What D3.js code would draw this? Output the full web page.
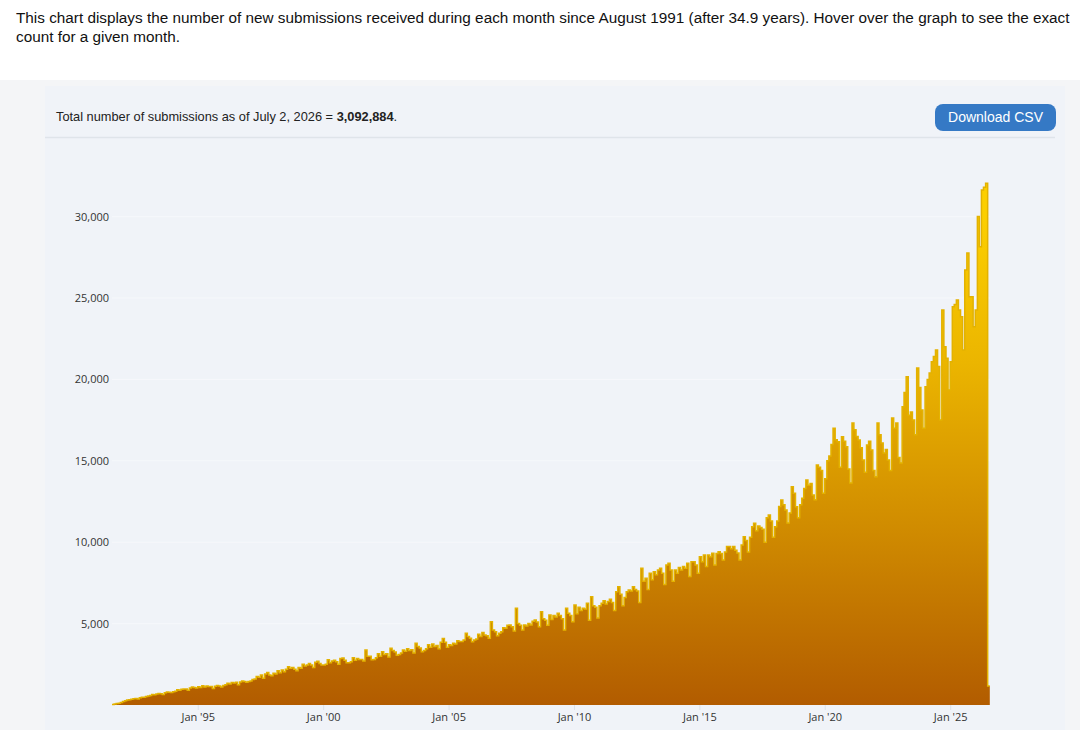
<!DOCTYPE html>
<html>
<head>
<meta charset="utf-8">
<script src="https://cdn.jsdelivr.net/npm/d3@7"></script>
<style>
  body { margin: 0; background: #fff; }
  svg { display: block; }
</style>
</head>
<body>
<svg id="chart" width="1080" height="730"></svg>
<script>
// monthly new submissions, first month = Aug 1991
var startMonth = new Date(1991, 7, 1);

var counts1990s = [
  30, 60, 85, 110, 150,
  210, 260, 310, 330, 350, 380, 400, 370, 440, 470, 480, 520,
  550, 580, 640, 630, 670, 700, 690, 640, 760, 800, 790, 770,
  820, 850, 940, 910, 970, 990, 980, 900, 1050, 1100, 1080, 1040,
  1120, 1080, 1190, 1110, 1170, 1140, 1130, 1020, 1150, 1200, 1160, 1110,
  1200, 1250, 1330, 1290, 1380, 1350, 1400, 1250, 1420, 1480, 1440, 1400,
  1450, 1480, 1560, 1600, 1750, 1700, 1850, 1650, 1900, 2000, 1850, 1800,
  1950, 1900, 2100, 1980, 2150, 2050, 2200, 2350, 2250, 2300, 2200, 2100,
  2300, 2250, 2500, 2400, 2450, 2550, 2450, 2300, 2620, 2680, 2550, 2450
];
var counts2000s = [
  2450, 2500, 2780, 2600, 2700, 2750, 2650, 2500, 2850, 2880, 2750, 2600,
  2600, 2650, 2900, 2750, 2850, 2800, 2800, 2700, 3380, 3000, 3000, 2780,
  2800, 2900, 3150, 3000, 3270, 3100, 3150, 2950, 3480, 3350, 3250, 3050,
  3100, 3200, 3380, 3300, 3450, 3350, 3400, 3200, 3790, 3600, 3500, 3270,
  3350, 3450, 3700, 3550, 3750, 3600, 3650, 3450, 3850, 4090, 3850, 3550,
  3700, 3650, 3800, 3750, 3950, 3900, 3900, 4000, 4400, 4200, 4100, 3890,
  4000, 4050, 4350, 4200, 4450, 4300, 4250, 4100, 5120, 4600, 4500, 4250,
  4400, 4500, 4750, 4710, 4900, 4910, 4800, 4550, 5940, 5000, 4900, 4600,
  4910, 4850, 5000, 4910, 5150, 5220, 5100, 4800, 5730, 5300, 5200, 4900,
  5530, 5250, 5500, 5400, 5630, 5500, 5300, 4600, 5940, 5630, 5500, 5120
];
var counts2010s = [
  6140, 5600, 6000, 5800, 5940, 5900, 6250, 5200, 6650, 6100, 6000, 5340,
  6100, 6250, 6400, 6200, 6350, 6500, 6300, 5800, 6960, 7270, 6800, 6100,
  6600, 6960, 7060, 7000, 7270, 7100, 7000, 6300, 8400, 7600, 7780, 7100,
  8090, 7700, 8190, 8000, 8300, 8400, 8100, 7400, 8600, 8700, 8300, 7600,
  8290, 8100, 8450, 8300, 8500, 8400, 8700, 7900, 8800, 8800, 8600, 8100,
  9110, 8800, 9210, 8500, 9210, 9100, 9320, 8600, 9300, 9420, 9300, 8900,
  9400, 9730, 9730, 9600, 9730, 9500, 9340, 8900, 9830, 10340, 10100, 9400,
  10300, 10950, 11160, 10700, 11000, 10900, 10800, 10000, 11500, 11670, 11300, 10300,
  10950, 11300, 12200, 12590, 12300, 11980, 11180, 11800, 13400, 13000, 12180, 11500,
  12300, 12700, 13300, 13820, 13500, 13600, 12900, 12600, 14740, 14600, 14400, 13000
];
var counts2020s = [
  13900, 15000, 15300, 16000, 17000, 16300, 16170, 14600, 16480, 16200, 15870, 14500,
  13640, 17320, 16900, 16500, 16280, 15800, 15050, 14300, 15970, 16200, 15660, 14400,
  14020, 17320, 16600, 16090, 15480, 15700, 15050, 14400, 17630, 17000, 17320, 15200,
  14860, 18320, 19200, 20170, 17800, 18000, 17500, 16600, 20700, 19500, 18120, 17000,
  19550, 20000, 20390, 21090, 21400, 21800, 20800, 17500, 24260, 22000, 21300, 19350,
  21090, 24470, 24600, 24880, 24260, 23850, 21800, 26720, 27760, 25080, 25080, 23240,
  24260, 30000, 28150, 31630, 31800, 32050, 1170
];

var xTickYears = [1995, 2000, 2005, 2010, 2015, 2020, 2025];
var yTickValues = [5000, 10000, 15000, 20000, 25000, 30000];
var totalText = "3,092,884";

var counts = counts1990s.concat(counts2000s, counts2010s, counts2020s);
var data = counts.map(function(v, i) {
  return {date: d3.timeMonth.offset(startMonth, i), value: v};
});
// extra point so the last step gets its width
var endDate = d3.timeMonth.offset(startMonth, counts.length);
var stepData = data.concat([{date: endDate, value: counts[counts.length - 1]}]);

var svg = d3.select("#chart");

// intro text
var intro = svg.append("g")
    .attr("font-family", "'Liberation Sans', Arial, sans-serif")
    .attr("font-size", "15.3px")
    .attr("fill", "#111");
intro.append("text").attr("x", 16).attr("y", 23)
    .text("This chart displays the number of new submissions received during each month since August 1991 (after 34.9 years). Hover over the graph to see the exact");
intro.append("text").attr("x", 16).attr("y", 42)
    .text("count for a given month.");

// panel
svg.append("rect").attr("x", 0).attr("y", 80).attr("width", 1080).attr("height", 650).attr("fill", "#f4f5f7");
svg.append("rect").attr("x", 45).attr("y", 86).attr("width", 1020).attr("height", 644).attr("fill", "#f0f3f8");

var head = svg.append("text")
    .attr("x", 56).attr("y", 121)
    .attr("font-family", "'Liberation Sans', Arial, sans-serif")
    .attr("font-size", "12.8px")
    .attr("fill", "#222");
head.append("tspan").text("Total number of submissions as of July 2, 2026 = ");
head.append("tspan").attr("font-weight", "bold").text(totalText);
head.append("tspan").text(".");

svg.append("rect")
    .attr("x", 935).attr("y", 104).attr("width", 121).attr("height", 27)
    .attr("rx", 8).attr("fill", "#3579c5");
svg.append("text")
    .attr("x", 995.5).attr("y", 122)
    .attr("text-anchor", "middle")
    .attr("font-family", "'Liberation Sans', Arial, sans-serif")
    .attr("font-size", "14px")
    .attr("fill", "#fff")
    .text("Download CSV");

svg.append("line")
    .attr("x1", 45).attr("x2", 1055).attr("y1", 137.5).attr("y2", 137.5)
    .attr("stroke", "#dfe4ea").attr("stroke-width", 1.5);

// scales
var x = d3.scaleTime()
    .domain([startMonth, endDate])
    .range([112, 989.8]);

var y = d3.scaleLinear()
    .domain([0, 30000])
    .range([705, 216.6]);

// gridlines
svg.append("g")
    .selectAll("line")
    .data(yTickValues)
    .enter()
    .append("line")
    .attr("x1", 112).attr("x2", 990)
    .attr("y1", function(d) { return y(d); })
    .attr("y2", function(d) { return y(d); })
    .attr("stroke", "#f6f8fb")
    .attr("stroke-width", 1);

// gradient
var grad = svg.append("defs").append("linearGradient")
    .attr("id", "fillGrad")
    .attr("gradientUnits", "userSpaceOnUse")
    .attr("x1", 0).attr("x2", 0)
    .attr("y1", y(0)).attr("y2", y(30000));
grad.append("stop").attr("offset", "0%").attr("stop-color", "#b25c00");
grad.append("stop").attr("offset", "35%").attr("stop-color", "#cf8a00");
grad.append("stop").attr("offset", "70%").attr("stop-color", "#ebb500");
grad.append("stop").attr("offset", "100%").attr("stop-color", "#fccf00");

var area = d3.area()
    .curve(d3.curveStepAfter)
    .x(function(d) { return x(d.date); })
    .y0(y(0))
    .y1(function(d) { return y(d.value); });

var line = d3.line()
    .curve(d3.curveStepAfter)
    .x(function(d) { return x(d.date); })
    .y(function(d) { return y(d.value); });

svg.append("path")
    .datum(stepData)
    .attr("d", area)
    .attr("fill", "url(#fillGrad)");

svg.append("path")
    .datum(stepData)
    .attr("d", line)
    .attr("fill", "none")
    .attr("stroke", "#e3b200")
    .attr("stroke-width", 1.5);

// axes
var tickFont = "'Open Sans', 'Noto Sans', sans-serif";

var yAxis = d3.axisLeft(y)
    .tickValues(yTickValues)
    .tickSize(0)
    .tickPadding(0)
    .tickFormat(d3.format(","));
var gy = svg.append("g")
    .attr("transform", "translate(109,0)")
    .call(yAxis);
gy.select(".domain").remove();
gy.selectAll("text")
    .attr("font-family", tickFont)
    .attr("font-size", "11px")
    .attr("fill", "#333");

var xAxis = d3.axisBottom(x)
    .tickValues(xTickYears.map(function(yr) { return new Date(yr, 0, 1); }))
    .tickSize(5)
    .tickPadding(3)
    .tickFormat(d3.timeFormat("Jan '%y"));
var gx = svg.append("g")
    .attr("transform", "translate(0,705)")
    .call(xAxis);
gx.select(".domain").remove();
gx.selectAll("line").attr("stroke", "#dde2e8");
gx.selectAll("text")
    .attr("font-family", tickFont)
    .attr("font-size", "11px")
    .attr("fill", "#333");
</script>
</body>
</html>
